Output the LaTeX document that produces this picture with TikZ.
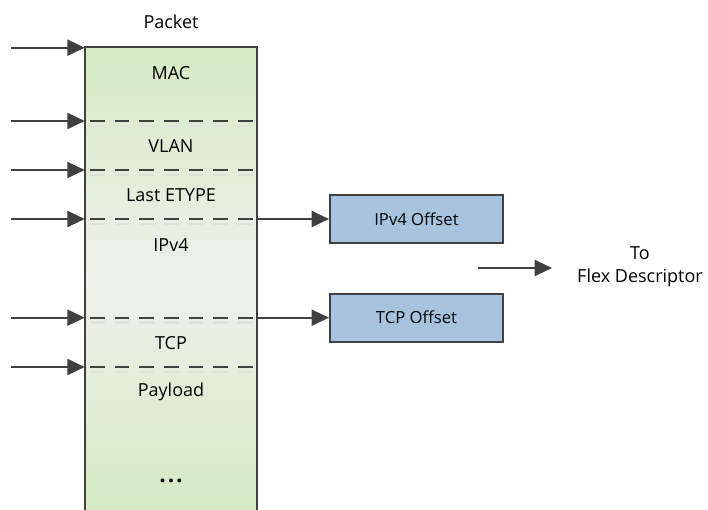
\documentclass[tikz,border=0pt]{standalone}
\usepackage{fontspec}
\setmainfont{Open Sans}
\usetikzlibrary{arrows.meta,fit}
\definecolor{ln}{RGB}{64,64,64}
\definecolor{gtop}{RGB}{212,234,196}
\definecolor{gmid}{RGB}{238,241,234}
\definecolor{boxfill}{RGB}{167,196,222}
\definecolor{shadowc}{RGB}{222,226,218}
\tikzset{
  conn/.style={draw=ln, line width=1.5pt, -{Triangle[length=13pt,width=12pt]}},
  dashline/.style={draw=ln, line width=1.5pt, dash pattern=on 11pt off 7.5pt},
  dashshadow/.style={draw=shadowc, line width=2pt, dash pattern=on 11pt off 7.5pt},
  lbl/.style={font=\fontsize{13.5}{16}\selectfont, text=black, inner sep=0pt},
  offbox/.style={draw=ln, line width=1.5pt, fill=boxfill, minimum width=129.75pt, minimum height=36pt, font=\fontsize{12.5}{15}\selectfont, inner sep=0pt},
}
\begin{document}
\begin{tikzpicture}[x=0.75pt,y=-0.75pt]
\useasboundingbox (0,0) rectangle (708,510);
% packet column
\node[fit={(85,47.7) (257,512)}, inner sep=0pt, top color=gtop, bottom color=gtop, middle color=gmid, draw=none] (pkt) {};
\draw[ln, line width=1.5pt] (pkt.south west) -- (pkt.north west) -- (pkt.north east) -- (pkt.south east);
% labels
\node[lbl] (tpacket) at (171,22) {Packet};
\node[lbl] (tmac) at (171,73) {MAC};
\node[lbl] (tvlan) at (171,146) {VLAN};
\node[lbl] (tlast) at (171,195) {Last ETYPE};
\node[lbl] (tipv4) at (171,245) {IPv4};
\node[lbl] (ttcp) at (171,343) {TCP};
\node[lbl] (tpay) at (171,392) {Payload};
\node[lbl, font=\fontsize{17}{18}\selectfont\bfseries] (tdots) at (171,481) {.\kern1.5pt.\kern1.5pt.};
% separators
\foreach \yy in {121,170,219,317.7,367}{
  \draw[dashshadow] (90,\yy+5) -- (257,\yy+5);
  \draw[dashline] (90,\yy) -- (257,\yy);
}
% input arrows
\coordinate (s1) at (11,47.7);
\coordinate (s2) at (11,121);
\coordinate (s3) at (11,170);
\coordinate (s4) at (11,219);
\coordinate (s5) at (11,317.7);
\coordinate (s6) at (11,367);
\foreach \s in {s1,s2,s3,s4,s5,s6}{
  \draw[conn] (\s) -- (\s -| pkt.west);
}
% offset boxes
\node[offbox] (ipoff) at (416.5,219) {IPv4 Offset};
\node[offbox] (tcpoff) at (416.5,317.7) {TCP Offset};
\draw[conn] (pkt.east |- ipoff) -- (ipoff.west);
\draw[conn] (pkt.east |- tcpoff) -- (tcpoff.west);
% to flex descriptor
\coordinate (f1) at (478,268);
\node[lbl, align=center] (flex) at (640,267) {To\\[1pt]Flex Descriptor};
\coordinate (f2) at (552,268);
\draw[conn] (f1) -- (f2);
\end{tikzpicture}
\end{document}
